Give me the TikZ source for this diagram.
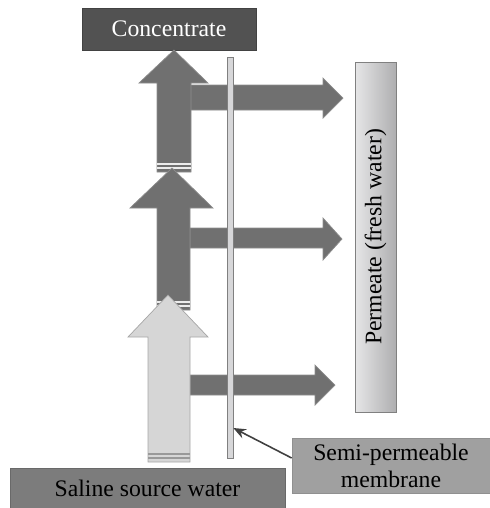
\documentclass[tikz,border=0pt]{standalone}
\usepackage{fontspec}
\setmainfont{Liberation Serif}
\usetikzlibrary{arrows.meta}
\definecolor{conc}{RGB}{82,82,82}
\definecolor{saline}{RGB}{124,124,124}
\definecolor{memlabel}{RGB}{160,160,160}
\definecolor{flow}{RGB}{112,112,112}
\definecolor{feed}{RGB}{214,214,214}
\definecolor{bar}{RGB}{205,205,207}

\begin{document}
\begin{tikzpicture}[x=0.02cm, y=-0.02cm,
  box/.style={inner sep=0pt, align=center, font=\fontsize{13.5}{15.5}\selectfont},
  concbox/.style={box, fill=conc, draw=conc!80!black, text=white,
    minimum width=3.48cm, minimum height=0.84cm},
  salinebox/.style={box, fill=saline, draw=saline!85!black,
    minimum width=5.5cm, minimum height=0.8cm},
  membox/.style={box, fill=memlabel, draw=memlabel!90!black,
    minimum width=3.96cm, minimum height=1.1cm},
  permbox/.style={box, left color=bar!50!white, right color=bar!85!black, draw=gray,
    minimum width=7cm, minimum height=0.82cm, rotate=90},
  membrane/.style={fill=bar!80!white, draw=gray, inner sep=0pt,
    minimum width=0.12cm, minimum height=8.02cm},
  fatdark/.style={fill=flow, draw=flow!80!white, line width=0.4pt},
  fatlight/.style={fill=feed, draw=gray!70, line width=0.4pt},
  stripe/.style={draw=white!85!gray, line width=0.7pt},
  pointer/.style={-{Stealth[length=2.5mm, width=2mm]}, draw=black!75, line width=0.9pt}
]
\useasboundingbox (0,0) rectangle (490,508);

% boxes
\node[concbox] (conc) at (169,29) {Concentrate};
\node[salinebox] (src) at (147.5,488) {Saline source water};
\node[membox] (semi) at (391,465.5) {Semi-permeable\\membrane};
\node[permbox] (perm) at (375.5,237) {Permeate (fresh water)};

% permeate flows
\draw[fatdark] (190,85) -- (323,85) -- (323,78) -- (343,98) -- (323,118) -- (323,110) -- (190,110) -- cycle;
\draw[fatdark] (190,228) -- (323,228) -- (323,218) -- (342,239) -- (323,260) -- (323,248) -- (190,248) -- cycle;
\draw[fatdark] (190,375) -- (315,375) -- (315,365) -- (335,385) -- (315,405) -- (315,395) -- (190,395) -- cycle;

% feed and concentrate flows
\draw[fatdark] (157,172) -- (157,83) -- (139,83) -- (174,50) -- (208,83) -- (191,83) -- (191,172) -- cycle;
\foreach \y in {164,168} \draw[stripe] (157,\y) -- (191,\y);
\draw[fatdark] (157,310) -- (157,208) -- (130,208) -- (172,168) -- (213,208) -- (190,208) -- (190,310) -- cycle;
\foreach \y in {302,306} \draw[stripe] (157,\y) -- (190,\y);
\draw[fatlight] (148,462) -- (148,337) -- (128,337) -- (168,295) -- (208,337) -- (190,337) -- (190,462) -- cycle;
\foreach \y in {454,458} \draw[draw=gray!80, line width=0.7pt] (148,\y) -- (190,\y);

% membrane
\node[membrane] (mem) at (230,257.5) {};
\draw[pointer] ([yshift=0.15cm]semi.west) -- (mem.east |- 0,428);
\end{tikzpicture}
\end{document}
